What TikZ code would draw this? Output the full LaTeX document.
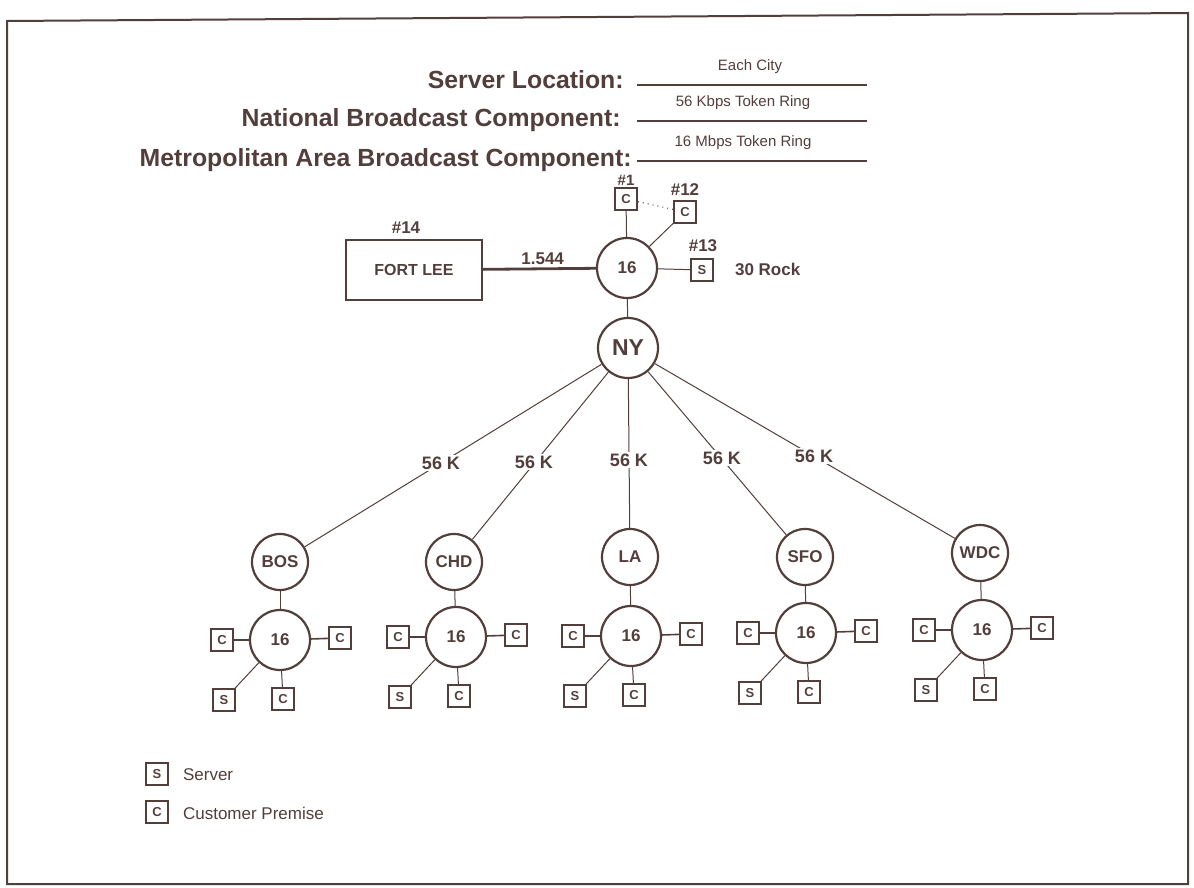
\documentclass[tikz,border=0pt]{standalone}
\usepackage{fontspec}
\setmainfont{Liberation Sans}
\definecolor{ink}{RGB}{82,62,58}

\begin{document}
\begin{tikzpicture}[x=0.5pt,y=-0.5pt,
  ring/.style={circle,draw=ink,line width=1.1pt,minimum size=30pt,inner sep=0pt,
    text=ink,font=\bfseries\fontsize{8.5}{10}\selectfont},
  cityring/.style={ring,minimum size=28pt},
  hub/.style={ring,font=\bfseries\fontsize{11.5}{13}\selectfont},
  site/.style={draw=ink,line width=0.9pt,minimum size=11pt,inner sep=0pt,
    text=ink,font=\bfseries\fontsize{6.5}{7}\selectfont},
  link/.style={draw=ink,line width=0.5pt},
  speed/.style={fill=white,inner sep=1pt,text=ink,font=\bfseries\fontsize{9}{10}\selectfont},
  tag/.style={text=ink,font=\bfseries\fontsize{8.5}{10}\selectfont},
  head/.style={anchor=east,text=ink,inner sep=1pt,font=\bfseries\fontsize{12.4}{14}\selectfont},
  fine/.style={text=ink,font=\fontsize{7.5}{8}\selectfont}]
\useasboundingbox (0,0) rectangle (1194,888);

%% frame
\draw[ink,line width=1pt] (7,21) -- (1188,13) -- (1188,884) -- (7,884) -- cycle;

%% heading
\node[head] (hsrv) at (626,80) {Server Location:};
\node[head] (hnat) at (623,120) {National Broadcast Component:};
\node[head] (hmet) at (634,160) {Metropolitan Area Broadcast Component:};
\draw[ink,line width=0.6pt] (637,85) -- (867,85);
\draw[ink,line width=0.6pt] (637,121) -- (867,121);
\draw[ink,line width=0.6pt] (637,161) -- (867,161);
\node[fine,anchor=south] (vsrv) at (750,81) {Each City};
\node[fine,anchor=south] (vnat) at (743,117) {56 Kbps Token Ring};
\node[fine,anchor=south] (vmet) at (743,157) {16 Mbps Token Ring};

%% New York hub
\node[ring] (top) at (627,268) {16};
\node[hub] (NY) at (628,348) {NY};
\draw[link] (top) -- (NY);

\node[site] (c1) at (626,199) {C};
\node[tag,inner sep=0.5pt,font=\bfseries\fontsize{7.5}{8}\selectfont] (l1) at (626,180) {\#1};
\node[site] (c12) at (685,212) {C};
\node[tag] (l12) at (685,190) {\#12};
\node[site] (s13) at (702,270) {S};
\node[tag] (l13) at (703,246) {\#13};
\node[tag,anchor=west] (rock) at (728,269) {30 Rock};
\draw[link] (c1) -- (top);
\draw[link] (c12) -- (top);
\draw[link,dotted] (c1) -- (c12);
\draw[link] (s13) -- (top);

\node[draw=ink,line width=0.6pt,minimum width=68pt,minimum height=30pt,text=ink,
  font=\bfseries\fontsize{8}{9}\selectfont] (lee) at (414,270) {FORT LEE};
\node[tag] (l14) at (406,228) {\#14};
\draw[ink,line width=1.4pt] (lee) -- node[tag,above=-2pt,pos=0.53] {1.544} (top);

%% cities
\foreach \nm/\cx/\cy/\rx/\ry/\kx/\ky in {BOS/280/562/280/640/441/463,
    CHD/454/562/456/637/534/462, LA/630/557/631/636/629/460,
    SFO/805/557/806/633/722/458, WDC/980/553/982/630/814/456}{
  \node[cityring] (\nm) at (\cx,\cy) {\nm};
  \draw[link] (NY) -- (\nm);
  \node[speed] (k\nm) at (\kx,\ky) {56 K};
  \node[ring] (r\nm) at (\rx,\ry) {16};
  \node[site] (cl\nm) at ([shift={(-58,0)}]r\nm) {C};
  \node[site] (cr\nm) at ([shift={(60,-2)}]r\nm) {C};
  \node[site] (s\nm) at ([shift={(-56,60)}]r\nm) {S};
  \node[site] (cb\nm) at ([shift={(3,59)}]r\nm) {C};
  \draw[link] (\nm) -- (r\nm);
  \draw[link,line width=0.8pt] (cl\nm) -- (r\nm);
  \draw[link,line width=0.8pt] (cr\nm) -- (r\nm);
  \draw[link] (s\nm) -- (r\nm);
  \draw[link] (cb\nm) -- (r\nm);
}

%% legend
\node[site] (keyS) at (157,774) {S};
\node[fine,anchor=west,font=\fontsize{8.5}{9}\selectfont] (keySt) at (176,775) {Server};
\node[site] (keyC) at (157,812) {C};
\node[fine,anchor=west,font=\fontsize{8.5}{9}\selectfont] (keyCt) at (176,813) {Customer Premise};

\end{tikzpicture}
\end{document}
